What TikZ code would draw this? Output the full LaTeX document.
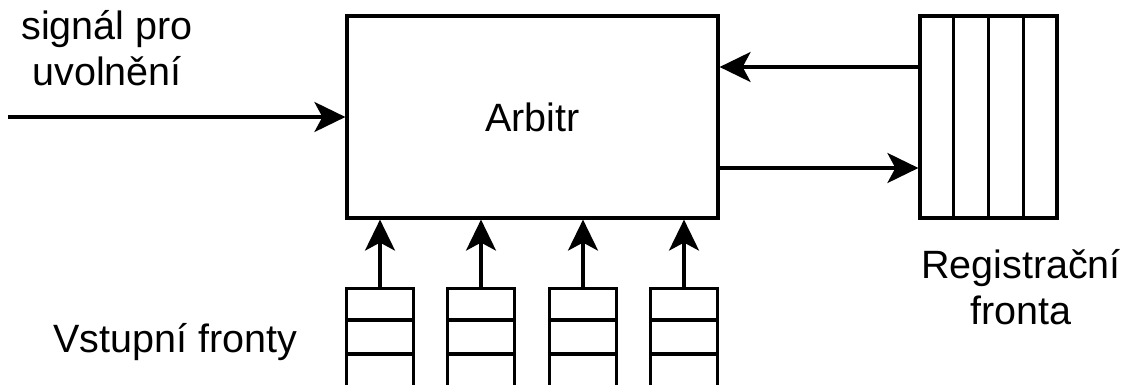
\documentclass[tikz,border=0pt]{standalone}
\usepackage{fontspec}
\setmainfont{Liberation Sans}
\usetikzlibrary{arrows.meta,calc}

\begin{document}
\begin{tikzpicture}[x=1pt,y=-1pt,
  every node/.style={font=\fontsize{39.5pt}{46pt}\selectfont},
  block/.style={draw, line width=3.2pt, inner sep=0pt, fill=white},
  lbl/.style={align=center, inner sep=0pt},
  arr/.style={line width=3.2pt, -{Stealth[length=31pt,width=30pt,inset=8pt]}},
  sep/.style={line width=3.2pt}]
  \useasboundingbox (0,0) rectangle (1126,385);
  \fill[white] (0,0) rectangle (1126,385);
  \clip (0,0) rectangle (1126,385);

  % central arbiter
  \node[block, minimum width=371pt, minimum height=202pt] (arb) at (532.5,117) {Arbitr};

  % register queue with four vertical slots
  \node[block, minimum width=137pt, minimum height=202pt] (reg) at (988.5,117) {};
  \foreach \f in {0.25,0.5,0.75}
    \draw[sep] ($(reg.north west)!\f!(reg.north east)$) -- ($(reg.south west)!\f!(reg.south east)$);

  % input queues below the arbiter
  \foreach \i/\cx in {1/380,2/481,3/583,4/684} {
    \node[block, minimum width=67pt, minimum height=140pt, anchor=north] (q\i) at (\cx,287) {};
    \draw[sep] ([yshift=-33pt]q\i.north west) -- ([yshift=-33pt]q\i.north east);
    \draw[sep] ([yshift=-67pt]q\i.north west) -- ([yshift=-67pt]q\i.north east);
    \draw[arr] (q\i.north) -- (q\i.north |- arb.south);
  }

  % connections
  \coordinate (sig) at (8,117);
  \draw[arr] (sig) -- (arb.west);
  \draw[arr] ([yshift=50pt]reg.west) -- ([yshift=50pt]reg.west -| arb.east);
  \draw[arr] ([yshift=-51pt]arb.east) -- ([yshift=-51pt]arb.east -| reg.west);

  % labels (base anchor sits on the last line)
  \node[lbl, anchor=base] (sigl) at (107,86) {signál pro\\uvolnění};
  \node[lbl, anchor=base] (vst) at (175,352) {Vstupní fronty};
  \node[lbl, anchor=base] (regl) at (1021,324) {Registrační\\fronta};
\end{tikzpicture}
\end{document}
